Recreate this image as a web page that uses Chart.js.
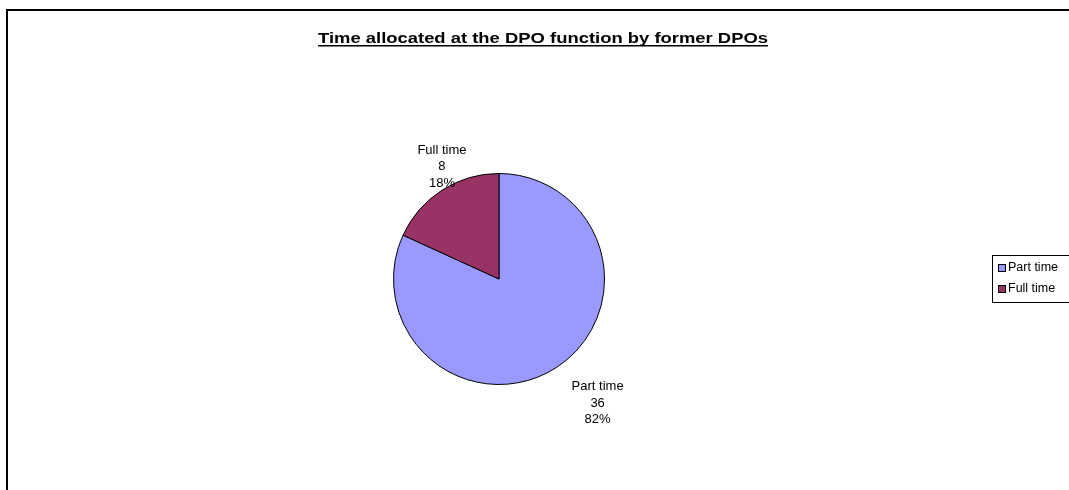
<!DOCTYPE html>
<html>

<head>
    <title>Time allocated at the DPO function</title>
    <style>
        html, body { margin: 0; padding: 0; background: #fff; }
        #wrap { width: 1069px; height: 490px; overflow: hidden; }
    </style>
</head>

<body>
    <div id="wrap"><canvas id="myChart" width="1069" height="490"></canvas></div>
    <script src="https://cdn.jsdelivr.net/npm/chart.js@4.4.0/dist/chart.umd.min.js"></script>

    <script type="text/javascript">
        const chartTitle = "Time allocated at the DPO function by former DPOs";
        const categories = ["Part time", "Full time"];
        const counts = [36, 8];
        const sliceColors = ["#9999FF", "#993366"];

        const FONT = '"Liberation Sans", Arial, sans-serif';

        // frame, underlined title, outside labels and the clipped legend box
        const extras = {
            id: 'extras',
            beforeDraw(chart) {
                const ctx = chart.ctx;
                ctx.save();
                ctx.strokeStyle = '#000';
                ctx.lineWidth = 2;
                ctx.beginPath();
                ctx.moveTo(7, 490);
                ctx.lineTo(7, 10);
                ctx.lineTo(1069, 10);
                ctx.stroke();
                ctx.restore();
            },
            afterDraw(chart) {
                const ctx = chart.ctx;
                ctx.save();

                // title, stretched a bit to the reference width
                ctx.font = 'bold 15px ' + FONT;
                ctx.fillStyle = '#000';
                ctx.textAlign = 'left';
                ctx.textBaseline = 'alphabetic';
                const want = 450;
                const tw = ctx.measureText(chartTitle).width;
                const sx = want / tw;
                ctx.save();
                ctx.translate(318, 43);
                ctx.scale(sx, 1);
                ctx.fillText(chartTitle, 0, 0);
                ctx.restore();
                ctx.fillRect(318, 45, want, 1.5);

                // slice labels
                const meta = chart.getDatasetMeta(0);
                const total = counts.reduce((a, b) => a + b, 0);
                ctx.font = '13px ' + FONT;
                ctx.textAlign = 'center';
                ctx.textBaseline = 'middle';
                const lh = 16.5;
                meta.data.forEach((arc, i) => {
                    const p = arc.getProps(['x', 'y', 'startAngle', 'endAngle', 'outerRadius'], true);
                    const mid = (p.startAngle + p.endAngle) / 2;
                    const lines = [categories[i], String(counts[i]), Math.round(counts[i] / total * 100) + '%'];
                    const w = Math.max(...lines.map(s => ctx.measureText(s).width));
                    const h = lh * lines.length;
                    const dx = Math.cos(mid), dy = Math.sin(mid);
                    const ax = p.x + dx * p.outerRadius, ay = p.y + dy * p.outerRadius;
                    let cx, cy;
                    if (dy < 0) {
                        // upper half: box sits on the rim point
                        cx = ax;
                        cy = ay - h / 2 + 1;
                    } else {
                        // lower half: box hangs off the rim, corner first
                        cx = ax + dx * 14 + w / 2 + 8;
                        cy = ay + dy * 14 + h / 2 - 1;
                    }
                    lines.forEach((s, k) => {
                        ctx.fillText(s, cx, cy + (k - (lines.length - 1) / 2) * lh);
                    });
                });

                // legend
                const lx = 992, ly = 255, lw = 100, lhb = 47;
                ctx.font = '12.5px ' + FONT;
                ctx.strokeStyle = '#000';
                ctx.lineWidth = 1;
                ctx.strokeRect(lx + 0.5, ly + 0.5, lw, lhb);
                ctx.textAlign = 'left';
                categories.forEach((c, i) => {
                    const yy = ly + 13 + i * 21;
                    ctx.fillStyle = sliceColors[i];
                    ctx.fillRect(lx + 6, yy - 4, 7, 7);
                    ctx.strokeRect(lx + 6.5, yy - 3.5, 7, 7);
                    ctx.fillStyle = '#000';
                    ctx.fillText(c, lx + 16, yy);
                });
                ctx.restore();
            }
        };

        const ctx = document.getElementById('myChart').getContext('2d');
        const chart = new Chart(ctx, {
            type: 'pie',
            data: {
                labels: categories,
                datasets: [{
                    data: counts,
                    backgroundColor: sliceColors,
                    borderColor: '#000',
                    borderWidth: 1
                }]
            },
            options: {
                responsive: false,
                animation: false,
                layout: { padding: { left: 393, right: 464, top: 173, bottom: 105 } },
                plugins: {
                    legend: { display: false },
                    tooltip: { enabled: false }
                }
            },
            plugins: [extras]
        });
    </script>
</body>

</html>
